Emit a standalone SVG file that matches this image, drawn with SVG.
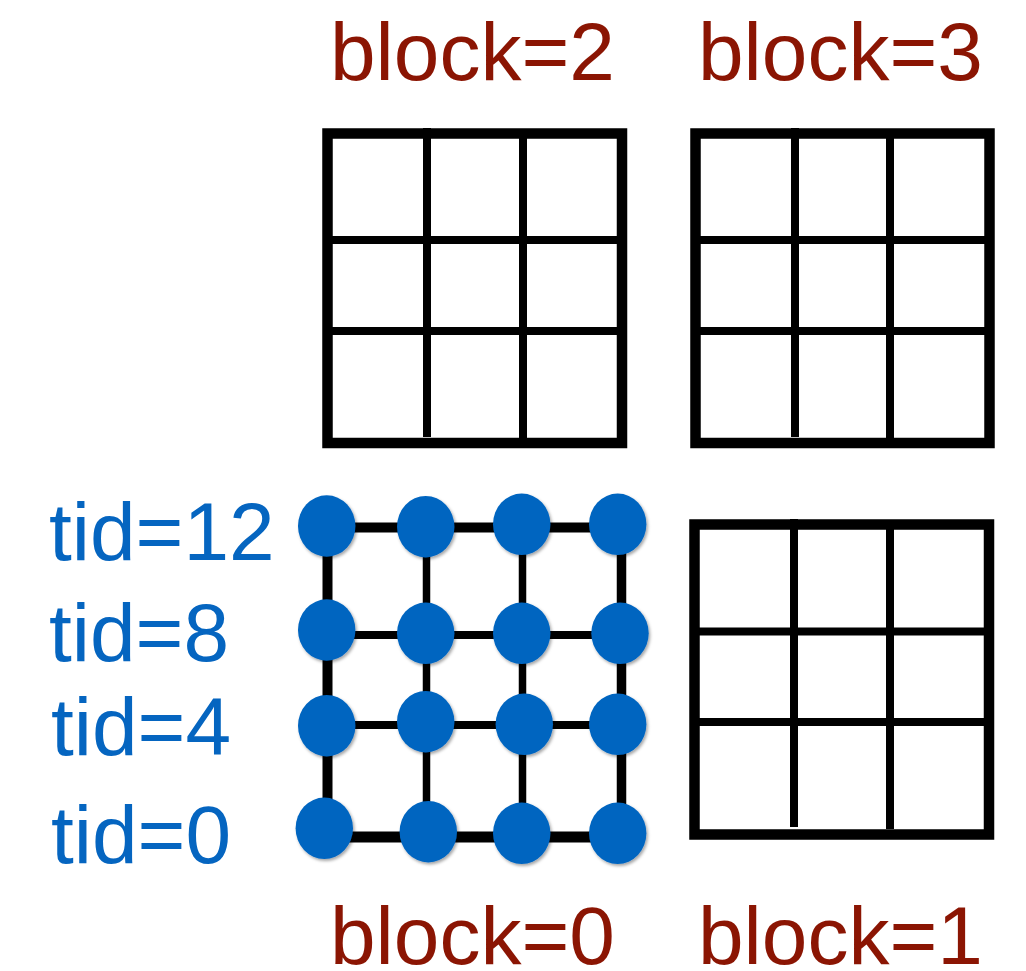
<svg xmlns="http://www.w3.org/2000/svg" width="1026" height="971" viewBox="0 0 1026 971">
  <style>
    .lbl { font-family: "Liberation Sans", Arial, sans-serif; font-size: 82px; fill: #8B1503; }
    .tid { font-family: "Liberation Sans", Arial, sans-serif; font-size: 82px; fill: #0565C0; }
    .frame { fill: #ffffff; stroke: #000000; stroke-width: 10.5; }
    .grid { stroke: #000000; stroke-width: 8; fill: none; }
    .conn { stroke: #000000; fill: none; }
    .dot { fill: #0565C0; filter: url(#sh); }
  </style>
  <defs>
    <filter id="sh" x="-30%" y="-30%" width="160%" height="160%">
      <feDropShadow dx="1.5" dy="2" stdDeviation="1.5" flood-color="#000" flood-opacity="0.35"/>
    </filter>
  </defs>
  <rect width="1026" height="971" fill="#ffffff"/>

  <g id="block2">
    <rect class="frame" x="327.5" y="133.5" width="294.5" height="309.5"/>
    <line class="grid" x1="427" y1="128" x2="427" y2="437"/>
    <line class="grid" x1="523" y1="138" x2="523" y2="438"/>
    <line class="grid" x1="332" y1="240" x2="617" y2="240"/>
    <line class="grid" x1="332" y1="331" x2="617" y2="331"/>
    <text class="lbl" x="330" y="80">block=2</text>
  </g>

  <g id="block3">
    <rect class="frame" x="695.5" y="133.5" width="294" height="309.5"/>
    <line class="grid" x1="795" y1="128" x2="795" y2="437"/>
    <line class="grid" x1="890" y1="138" x2="890" y2="438"/>
    <line class="grid" x1="700" y1="240" x2="985" y2="240"/>
    <line class="grid" x1="700" y1="331" x2="985" y2="331"/>
    <text class="lbl" x="698" y="80">block=3</text>
  </g>

  <g id="block1">
    <rect class="frame" x="694.5" y="524.5" width="294.5" height="310"/>
    <line class="grid" x1="794" y1="519" x2="794" y2="827"/>
    <line class="grid" x1="890" y1="529" x2="890" y2="829"/>
    <line class="grid" x1="699" y1="631.5" x2="984" y2="631.5"/>
    <line class="grid" x1="699" y1="722" x2="984" y2="722"/>
    <text class="lbl" x="698" y="964">block=1</text>
  </g>

  <g id="connectors">
    <line class="conn" stroke-width="10" x1="327.5" y1="527" x2="327.5" y2="837"/>
    <line class="conn" stroke-width="7.5" x1="426.5" y1="527" x2="426.5" y2="837"/>
    <line class="conn" stroke-width="7.5" x1="522.5" y1="527" x2="522.5" y2="837"/>
    <line class="conn" stroke-width="9.5" x1="621.5" y1="527" x2="621.5" y2="837"/>
    <line class="conn" stroke-width="10" x1="327" y1="527.5" x2="622" y2="527.5"/>
    <line class="conn" stroke-width="8" x1="327" y1="635" x2="622" y2="635"/>
    <line class="conn" stroke-width="8" x1="327" y1="725" x2="622" y2="725"/>
    <line class="conn" stroke-width="11" x1="324" y1="837" x2="622" y2="837"/>
  </g>

  <g id="block0">
    <ellipse class="dot" cx="326.7" cy="526" rx="28.7" ry="30.7"/>
    <ellipse class="dot" cx="425.7" cy="526.7" rx="28.7" ry="30.7"/>
    <ellipse class="dot" cx="521.7" cy="524.3" rx="28.7" ry="30.7"/>
    <ellipse class="dot" cx="617.7" cy="524.3" rx="28.7" ry="30.7"/>

    <ellipse class="dot" cx="326.7" cy="630" rx="28.7" ry="30.7"/>
    <ellipse class="dot" cx="425.7" cy="633.3" rx="28.7" ry="30.7"/>
    <ellipse class="dot" cx="521.7" cy="633.3" rx="28.7" ry="30.7"/>
    <ellipse class="dot" cx="620" cy="633.3" rx="28.7" ry="30.7"/>

    <ellipse class="dot" cx="326.7" cy="725.7" rx="28.7" ry="30.7"/>
    <ellipse class="dot" cx="425.7" cy="721.7" rx="28.7" ry="30.7"/>
    <ellipse class="dot" cx="524.3" cy="724.3" rx="28.7" ry="30.7"/>
    <ellipse class="dot" cx="617.7" cy="724.3" rx="28.7" ry="30.7"/>

    <ellipse class="dot" cx="324.3" cy="828.3" rx="28.7" ry="30.7"/>
    <ellipse class="dot" cx="428.3" cy="831.7" rx="28.7" ry="30.7"/>
    <ellipse class="dot" cx="521.7" cy="833.3" rx="28.7" ry="30.7"/>
    <ellipse class="dot" cx="617.7" cy="833.3" rx="28.7" ry="30.7"/>

    <text class="lbl" x="330" y="964">block=0</text>
  </g>

  <g id="tid-labels">
    <text class="tid" x="49" y="560">tid=12</text>
    <text class="tid" x="49" y="661">tid=8</text>
    <text class="tid" x="51" y="755">tid=4</text>
    <text class="tid" x="51" y="863">tid=0</text>
  </g>
</svg>
